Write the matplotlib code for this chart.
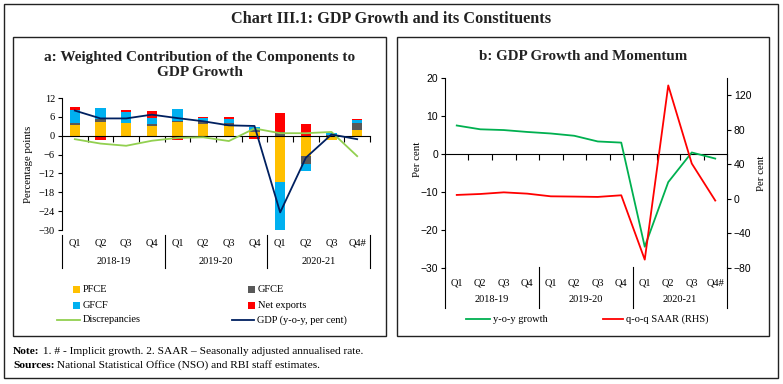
import numpy as np
import matplotlib
matplotlib.use('Agg')
import matplotlib.pyplot as plt
from matplotlib.patches import Rectangle
from matplotlib.lines import Line2D
from matplotlib.transforms import blended_transform_factory

plt.rcParams['font.family'] = ['Liberation Serif', 'DejaVu Serif']

quarters = ['Q1', 'Q2', 'Q3', 'Q4', 'Q1', 'Q2', 'Q3', 'Q4', 'Q1', 'Q2', 'Q3', 'Q4#']
years = ['2018-19', '2019-20', '2020-21']

# panel a: weighted contributions (percentage points)
pfce = [3.4, 4.5, 3.9, 3.2, 4.4, 3.6, 3.1, 1.1, -14.6, -6.4, -1.4, 1.7]
gfce = [0.7, 0.8, 0.3, 0.6, 0.2, 1.0, 1.1, 0.7, 1.3, -2.5, 0.2, 2.5]
gfcf = [4.2, 3.6, 3.3, 1.9, 4.0, 1.1, 1.0, 1.1, -15.4, -2.3, 0.8, 0.8]
net_exports = [0.7, -1.5, 0.6, 2.1, -1.5, 0.4, 0.7, -1.1, 5.9, 3.8, 0.0, 0.4]
discrepancies = [-1.1, -2.5, -3.2, -1.6, -0.7, -0.5, -1.7, 2.3, 0.8, 0.8, 1.2, -6.5]
gdp = [8.0, 5.5, 5.5, 6.7, 5.6, 4.6, 3.3, 3.1, -24.4, -7.0, 0.4, -1.1]

# panel b: growth and momentum (per cent)
yoy = [7.5, 6.5, 6.3, 5.8, 5.4, 4.8, 3.3, 3.0, -24.4, -7.4, 0.4, -1.2]
saar = [4.6, 5.7, 7.6, 6.1, 3.0, 2.7, 2.3, 4.2, -70.3, 131.4, 41.0, -1.9]

W, H = 783, 384
C_PFCE, C_GFCE, C_GFCF, C_NX = '#FFC000', '#595959', '#00B0F0', '#FF0000'
C_DISC, C_GDP = '#92D050', '#002060'
C_YOY, C_SAAR = '#00B050', '#FF0000'


def rect(l, t, r, b):
    return [l / W, 1 - b / H, (r - l) / W, (b - t) / H]


def fy(py):
    return 1 - py / H


fig = plt.figure(figsize=(W / 100, H / 100), dpi=100)
fig.patch.set_facecolor('white')

# frames
for l, t, r, b in [(4, 4, 778, 378), (13, 37, 386, 336), (397, 37, 769, 336)]:
    fig.add_artist(Rectangle((l / W, fy(b)), (r - l) / W, (b - t) / H,
                             transform=fig.transFigure, fill=False, lw=1.0, ec='#222222'))

fig.text(391 / W, fy(19), 'Chart III.1: GDP Growth and its Constituents', ha='center', va='center',
         fontsize=11.7, fontweight='bold', color='#222222')
fig.text(200 / W, fy(65), 'a: Weighted Contribution of the Components to\nGDP Growth', ha='center',
         va='center', fontsize=11, fontweight='bold', color='#222222', linespacing=1.15)
fig.text(583 / W, fy(57), 'b: GDP Growth and Momentum', ha='center', va='center',
         fontsize=10.8, fontweight='bold', color='#222222')

x = np.arange(len(quarters))


def style_cat_axis(ax, sep_top, sep_bot, q_y, yr_y, fs=7.5):
    ax.set_xlim(-0.5, len(quarters) - 0.5)
    ax.spines['top'].set_visible(False)
    ax.spines['right'].set_visible(False)
    ax.spines['bottom'].set_position(('data', 0))
    ax.set_xticks(np.arange(0.5, len(quarters), 1.0))
    ax.tick_params(axis='x', direction='out', length=4, width=0.8, labelbottom=False)
    tr = blended_transform_factory(ax.transData, fig.transFigure)
    for i, q in enumerate(quarters):
        ax.text(i, fy(q_y), q, transform=tr, ha='center', va='center', fontsize=fs, clip_on=False)
    for k, yr in enumerate(years):
        ax.text(4 * k + 1.5, fy(yr_y), yr, transform=tr, ha='center', va='center', fontsize=fs,
                clip_on=False)
    for sx in [-0.5, 3.5, 7.5, 11.5]:
        ax.add_line(Line2D([sx, sx], [fy(sep_top), fy(sep_bot)], transform=tr, color='black',
                           lw=0.8, clip_on=False))


# ---- panel a ----
ax = fig.add_axes(rect(62, 98, 370, 230))
ax.patch.set_alpha(0)
series = [(pfce, C_PFCE), (gfce, C_GFCE), (gfcf, C_GFCF), (net_exports, C_NX)]
pos_base = np.zeros(len(x))
neg_base = np.zeros(len(x))
for vals, col in series:
    v = np.array(vals)
    bottom = np.where(v >= 0, pos_base, neg_base)
    ax.bar(x, v, 0.4, bottom=bottom, color=col, zorder=2)
    pos_base = pos_base + np.where(v > 0, v, 0)
    neg_base = neg_base + np.where(v < 0, v, 0)
ax.plot(x, discrepancies, color=C_DISC, lw=1.3, zorder=3)
ax.plot(x, gdp, color=C_GDP, lw=1.3, zorder=4)
ax.set_ylim(-30, 12)
ax.set_yticks(np.arange(-30, 13, 6))
ax.tick_params(axis='y', direction='out', length=3, width=0.8, labelsize=7.5, pad=2)
ax.set_ylabel('Percentage points', fontsize=7.8, labelpad=4)
style_cat_axis(ax, 235, 268, 243, 262)

# legend a
def leg_patch(px, py, col, label):
    fig.add_artist(Rectangle((px / W, fy(py + 3.5)), 7 / W, 7 / H, transform=fig.transFigure,
                             color=col, lw=0))
    fig.text((px + 10) / W, fy(py), label, ha='left', va='center', fontsize=7.5)


def leg_line(x0, x1, py, col, label):
    fig.add_artist(Line2D([x0 / W, x1 / W], [fy(py), fy(py)], transform=fig.transFigure,
                          color=col, lw=1.3))
    fig.text((x1 + 3) / W, fy(py), label, ha='left', va='center', fontsize=7.5)


leg_patch(73, 289, C_PFCE, 'PFCE')
leg_patch(248, 289, C_GFCE, 'GFCE')
leg_patch(73, 305, C_GFCF, 'GFCF')
leg_patch(248, 305, C_NX, 'Net exports')
leg_line(57, 80, 320, C_DISC, 'Discrepancies')
leg_line(232, 254, 320, C_GDP, 'GDP (y-o-y, per cent)')

# ---- panel b ----
bx = fig.add_axes(rect(445, 78, 727, 268))
bx.patch.set_alpha(0)
bx.plot(x, yoy, color=C_YOY, lw=1.3, zorder=3)
bx.set_ylim(-30, 20)
bx.set_yticks(np.arange(-30, 21, 10))
bx.tick_params(axis='y', direction='out', length=3, width=0.8, labelsize=7.5, pad=2)
for lab in bx.get_yticklabels():
    lab.set_family(['Liberation Sans', 'DejaVu Sans'])
bx.set_ylabel('Per cent', fontsize=7.8)
bx.yaxis.set_label_coords(-0.08, 0.57)
style_cat_axis(bx, 267, 308, 283, 300)

bx2 = bx.twinx()
bx2.plot(x, saar, color=C_SAAR, lw=1.3, zorder=3)
bx2.set_ylim(-80, 140)
bx2.set_yticks(np.arange(-80, 121, 40))
bx2.spines['top'].set_visible(False)
bx2.spines['left'].set_visible(False)
bx2.spines['bottom'].set_visible(False)
bx2.tick_params(axis='y', direction='out', length=3, width=0.8, labelsize=7.5, pad=2)
for lab in bx2.get_yticklabels():
    lab.set_family(['Liberation Sans', 'DejaVu Sans'])
bx2.set_ylabel('Per cent', fontsize=7.8)
bx2.yaxis.set_label_coords(1.105, 0.5)

leg_line(466, 490, 319, C_YOY, 'y-o-y growth')
leg_line(603, 623, 319, C_SAAR, 'q-o-q SAAR (RHS)')

# notes
t1 = fig.text(13 / W, fy(351), 'Note:', ha='left', va='center', fontsize=8.2, fontweight='bold')
ax.annotate(' 1. # - Implicit growth. 2. SAAR \u2013 Seasonally adjusted annualised rate.',
            xy=(1, 0.5), xycoords=t1, ha='left', va='center', fontsize=8.2, annotation_clip=False)
t2 = fig.text(13 / W, fy(365), 'Sources:', ha='left', va='center', fontsize=8.2, fontweight='bold')
ax.annotate(' National Statistical Office (NSO) and RBI staff estimates.',
            xy=(1, 0.5), xycoords=t2, ha='left', va='center', fontsize=8.2, annotation_clip=False)

fig.savefig('out.png', dpi=100)
